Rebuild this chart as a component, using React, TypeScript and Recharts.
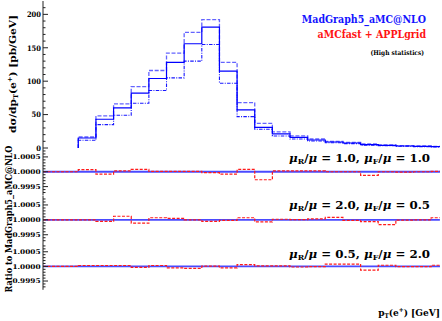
import React from 'react';
import { ComposedChart, Line, XAxis, YAxis } from 'recharts';

// ---- data ----
const binLow = [0, 4, 8, 12, 16, 20, 24, 28, 32, 36, 40, 44, 48, 52, 56, 60, 64, 68, 72, 76, 80, 84, 88];
const xEnd = 90;
const mgCentral = [null, null, 15, 43, 60, 82, 104, 128, 156, 181, 115, 57, 31, 21, 16, 12, 9, 7.5, 5, 4, 3, 2.5, 2];
const mgUpper = [null, null, 16.5, 48, 66, 92, 116, 142, 173, 192, 128, 68, 37, 24, 18, 13.5, 10, 8.5, 6, 4.8, 3.6, 3, 2.4];
const mgLower = [null, null, 11.5, 35, 49, 67, 86, 105, 130, 155, 97, 47, 28, 18, 13.5, 10.5, 7.8, 6.5, 4.3, 3.4, 2.6, 2.1, 1.7];

const ratioR1F1 = [1.0, 1.0, 1.00007, 0.99992, 1.00003, 1.00008, 1.00001, 1.00001, 1.00001, 0.99997, 0.99992, 1.00008, 0.99973, 1.00003, 1.00003, 1.00003, 1.0, 1.0, 0.99988, 1.0, 0.99999, 1.0, 1.00001];
const ratioR2F05 = [1.0, 1.0, 1.0, 0.99995, 1.00012, 0.99989, 1.00007, 1.00005, 1.0, 0.99995, 0.99998, 1.00007, 0.99993, 1.00002, 1.00001, 1.00003, 1.00008, 0.99998, 0.99994, 0.99984, 0.99999, 1.0, 1.00007];
const ratioR05F2 = [1.0, 1.0, 1.00003, 1.00003, 1.00003, 0.99997, 1.00003, 0.99995, 0.99993, 1.00001, 0.99995, 1.00006, 1.00002, 1.00002, 0.99998, 0.99999, 1.00008, 1.00008, 0.99987, 1.00004, 0.99999, 0.99999, 1.00004];

const xTicks = [0, 4, 8, 12, 16, 20, 24, 28, 32, 36, 40, 44, 48, 52, 56, 60, 64, 68, 72, 76, 80, 84, 88];
const xLabelValues = [0, 20, 40, 60, 80];
const xLabelText = ['0', '20', '40', '60', '80'];
const topYTicks = [0, 10, 20, 30, 40, 50, 60, 70, 80, 90, 100, 110, 120, 130, 140, 150, 160, 170, 180, 190, 200, 210];
const topYLabelValues = [0, 50, 100, 150, 200];
const topYLabelText = ['0', '50', '100', '150', '200'];
const ratioTicks = [0.9993, 0.9994, 0.9995, 0.9996, 0.9997, 0.9998, 0.9999, 1.0, 1.0001, 1.0002, 1.0003, 1.0004, 1.0005, 1.0006, 1.0007];
const ratioLabelValues = [0.9995, 1.0, 1.0005];
const ratioLabelText = ['0.9995', '1.0000', '1.0005'];
const panelLabels = [
  { r: '1.0', f: '1.0' },
  { r: '2.0', f: '0.5' },
  { r: '0.5', f: '2.0' },
];

// ---- tables ----
const firstIdx = mgCentral.findIndex((v) => v !== null);
const topRows: any[] = [];
binLow.forEach((x, i) => {
  if (i === firstIdx) topRows.push({ x, c: 0, u: 0, l: 0 });
  topRows.push({ x, c: mgCentral[i], u: mgUpper[i], l: mgLower[i] });
});
topRows.push({ x: xEnd, c: mgCentral[mgCentral.length - 1], u: mgUpper[mgUpper.length - 1], l: mgLower[mgLower.length - 1] });

const ratioRows = (vals: number[]) => {
  const rows = binLow.map((x, i) => ({ x, r: vals[i], one: 1 }));
  rows.push({ x: xEnd, r: vals[vals.length - 1], one: 1 });
  return rows;
};
const ratioTables = [ratioRows(ratioR1F1), ratioRows(ratioR2F05), ratioRows(ratioR05F2)];

// ---- styles ----
const FONT = "'DejaVu Serif', serif";
const TICK = '#222';
const W = 442;
const near = (a: number, b: number) => Math.abs(a - b) < 1e-9;

const bottomTick = (labels: boolean) => (p: any) => {
  const v = p.payload.value;
  const idx = xLabelValues.findIndex((m) => near(m, v));
  const major = idx >= 0;
  return (
    <g>
      <line x1={p.x} x2={p.x} y1={p.y} y2={p.y - (major ? 5 : 2.5)} stroke={TICK} strokeWidth={1} />
      {labels && major ? (
        <text x={p.x} y={p.y + 13} textAnchor="middle" fontFamily={FONT} fontStretch="condensed" fontWeight="bold" fontSize={7.5} fill="#000">
          {xLabelText[idx]}
        </text>
      ) : null}
    </g>
  );
};
const topTick = (p: any) => {
  const v = p.payload.value;
  const major = xLabelValues.some((m) => near(m, v));
  return <line x1={p.x} x2={p.x} y1={p.y} y2={p.y + (major ? 5 : 2.5)} stroke={TICK} strokeWidth={1} />;
};
const leftTick = (labelVals: number[], labelText: string[], ratio: boolean) => (p: any) => {
  const v = p.payload.value;
  const idx = labelVals.findIndex((m) => near(m, v));
  const major = idx >= 0;
  return (
    <g>
      <line x1={p.x} x2={p.x + (major ? 5 : 2.5)} y1={p.y} y2={p.y} stroke={TICK} strokeWidth={1} />
      {major ? (
        ratio ? (
          <text x={p.x - 2.5} y={p.y + 2.4} textAnchor="end" fontFamily={FONT} fontStretch="condensed" fontWeight="bold" fontSize={6.5} fill="#000" textLength={28} lengthAdjust="spacingAndGlyphs">
            {labelText[idx]}
          </text>
        ) : (
          <text x={p.x - 2} y={p.y + 2.8} textAnchor="end" fontFamily={FONT} fontStretch="condensed" fontWeight="bold" fontSize={7.5} fill="#000">
            {labelText[idx]}
          </text>
        )
      ) : null}
    </g>
  );
};
const rightTick = (labelVals: number[]) => (p: any) => {
  const v = p.payload.value;
  const major = labelVals.some((m) => near(m, v));
  return <line x1={p.x} x2={p.x - (major ? 5 : 2.5)} y1={p.y} y2={p.y} stroke={TICK} strokeWidth={1} />;
};

const MARGIN_R = 2;
const LEFT_W = 43;

function TopPanel() {
  return (
    <ComposedChart width={W} height={154} data={topRows} margin={{ top: 1, right: MARGIN_R, bottom: 6, left: 0 }}>
      <XAxis dataKey="x" type="number" domain={[0, 90]} allowDataOverflow ticks={xTicks} interval={0} height={0} tickSize={0} tickMargin={0}
        axisLine={{ stroke: '#8a8a8a', strokeWidth: 2.5 }} tickLine={false} tick={bottomTick(false)} />
      <XAxis xAxisId="top" orientation="top" type="number" domain={[0, 90]} allowDataOverflow ticks={xTicks} interval={0} height={0} tickSize={0} tickMargin={0}
        axisLine={{ stroke: '#222', strokeWidth: 1 }} tickLine={false} tick={topTick} />
      <YAxis type="number" domain={[0, 220]} allowDataOverflow ticks={topYTicks} interval={0} width={LEFT_W} tickSize={0} tickMargin={0}
        axisLine={{ stroke: '#222', strokeWidth: 1 }} tickLine={false} tick={leftTick(topYLabelValues, topYLabelText, false)} />
      <YAxis yAxisId="right" orientation="right" type="number" domain={[0, 220]} allowDataOverflow ticks={topYTicks} interval={0} width={0} tickSize={0} tickMargin={0}
        axisLine={{ stroke: '#222', strokeWidth: 1 }} tickLine={false} tick={rightTick(topYLabelValues)} />
      <Line dataKey="u" type="stepAfter" stroke="#6464ff" strokeWidth={1.3} strokeDasharray="4 1.7" dot={false} isAnimationActive={false} />
      <Line dataKey="l" type="stepAfter" stroke="#1818ff" strokeWidth={1.1} strokeDasharray="3.5 1.3 1 1.3" dot={false} isAnimationActive={false} />
      <Line dataKey="c" type="stepAfter" stroke="#0000ff" strokeWidth={1.2} dot={false} isAnimationActive={false} />
    </ComposedChart>
  );
}

function RatioPanel({ idx, height, bottom }: { idx: number; height: number; bottom: number }) {
  const last = idx === 2;
  return (
    <ComposedChart width={W} height={height} data={ratioTables[idx]} margin={{ top: 0, right: MARGIN_R, bottom, left: 0 }}>
      <XAxis dataKey="x" type="number" domain={[0, 90]} allowDataOverflow ticks={xTicks} interval={0} height={0} tickSize={0} tickMargin={0}
        axisLine={{ stroke: last ? '#222' : '#555', strokeWidth: last ? 1 : 1.5 }} tickLine={false} tick={bottomTick(last)} />
      <YAxis type="number" domain={[0.9992, 1.0008]} allowDataOverflow ticks={ratioTicks} interval={0} width={LEFT_W} tickSize={0} tickMargin={0}
        axisLine={{ stroke: '#222', strokeWidth: 1 }} tickLine={false} tick={leftTick(ratioLabelValues, ratioLabelText, true)} />
      <YAxis yAxisId="right" orientation="right" type="number" domain={[0.9992, 1.0008]} allowDataOverflow ticks={ratioTicks} interval={0} width={0} tickSize={0} tickMargin={0}
        axisLine={{ stroke: '#222', strokeWidth: 1 }} tickLine={false} tick={rightTick(ratioLabelValues)} />
      <Line dataKey="one" type="stepAfter" stroke="#4a4aff" strokeWidth={1.8} dot={false} isAnimationActive={false} />
      <Line dataKey="r" type="stepAfter" stroke="#ff1a1a" strokeWidth={1.2} strokeDasharray="3 1.5" dot={false} isAnimationActive={false} />
    </ComposedChart>
  );
}

function PanelLabel({ y, r, f }: { y: number; r: string; f: string }) {
  return (
    <text x={430} y={y} textAnchor="end" fontFamily={FONT} fontStretch="condensed" fontWeight="bold" fontSize={10.5} fill="#000" textLength={141} lengthAdjust="spacingAndGlyphs">
      <tspan fontStyle="italic">μ</tspan>
      <tspan fontSize={7} dy={2}>R</tspan>
      <tspan dy={-2}>/</tspan>
      <tspan fontStyle="italic">μ</tspan>
      <tspan>{` = ${r}, `}</tspan>
      <tspan fontStyle="italic">μ</tspan>
      <tspan fontSize={7} dy={2}>F</tspan>
      <tspan dy={-2}>/</tspan>
      <tspan fontStyle="italic">μ</tspan>
      <tspan>{` = ${f}`}</tspan>
    </text>
  );
}

export default function App() {
  const abs = (top: number): React.CSSProperties => ({ position: 'absolute', left: 0, top });
  return (
    <div style={{ position: 'absolute', left: 0, top: 0, width: W, height: 321, background: '#fff' }}>
      <div style={abs(0)}><TopPanel /></div>
      <div style={abs(148)}><RatioPanel idx={0} height={47.5} bottom={0} /></div>
      <div style={abs(195.5)}><RatioPanel idx={1} height={47.7} bottom={0} /></div>
      <div style={abs(243.2)}><RatioPanel idx={2} height={77.8} bottom={31} /></div>
      <svg width={W} height={321} style={{ position: 'absolute', left: 0, top: 0, pointerEvents: 'none' }}>
        <text x={426} y={23} textAnchor="end" fontFamily={FONT} fontStretch="condensed" fontWeight="bold" fontSize={10.5} fill="#1414ff">MadGraph5_aMC@NLO</text>
        <text x={426} y={37.5} textAnchor="end" fontFamily={FONT} fontStretch="condensed" fontWeight="bold" fontSize={10.5} fill="#ff1414">aMCfast + APPLgrid</text>
        <text x={424} y={55} textAnchor="end" fontFamily={FONT} fontStretch="condensed" fontWeight="bold" fontSize={6.5} fill="#000">(High statistics)</text>
        <PanelLabel y={162} r={panelLabels[0].r} f={panelLabels[0].f} />
        <PanelLabel y={209} r={panelLabels[1].r} f={panelLabels[1].f} />
        <PanelLabel y={258} r={panelLabels[2].r} f={panelLabels[2].f} />
        <text transform="translate(16,74) rotate(-90)" textAnchor="middle" fontFamily={FONT} fontStretch="condensed" fontWeight="bold" fontSize={10} fill="#000" textLength={118} lengthAdjust="spacingAndGlyphs">
          <tspan>dσ/dp</tspan>
          <tspan fontSize={6.5} dy={2}>T</tspan>
          <tspan dy={-2}>(e</tspan>
          <tspan fontSize={6.5} dy={-4}>+</tspan>
          <tspan dy={4}>) [pb/GeV]</tspan>
        </text>
        <text transform="translate(11.5,219) rotate(-90)" textAnchor="middle" fontFamily={FONT} fontStretch="condensed" fontWeight="bold" fontSize={9} fill="#000" textLength={147} lengthAdjust="spacingAndGlyphs">
          Ratio to MadGraph5_aMC@NLO
        </text>
        <text x={440} y={316} textAnchor="end" fontFamily={FONT} fontStretch="condensed" fontWeight="bold" fontSize={10} fill="#000">
          <tspan>p</tspan>
          <tspan fontSize={6.5} dy={2}>T</tspan>
          <tspan dy={-2}>(e</tspan>
          <tspan fontSize={6.5} dy={-4}>+</tspan>
          <tspan dy={4}>) [GeV]</tspan>
        </text>
      </svg>
    </div>
  );
}
